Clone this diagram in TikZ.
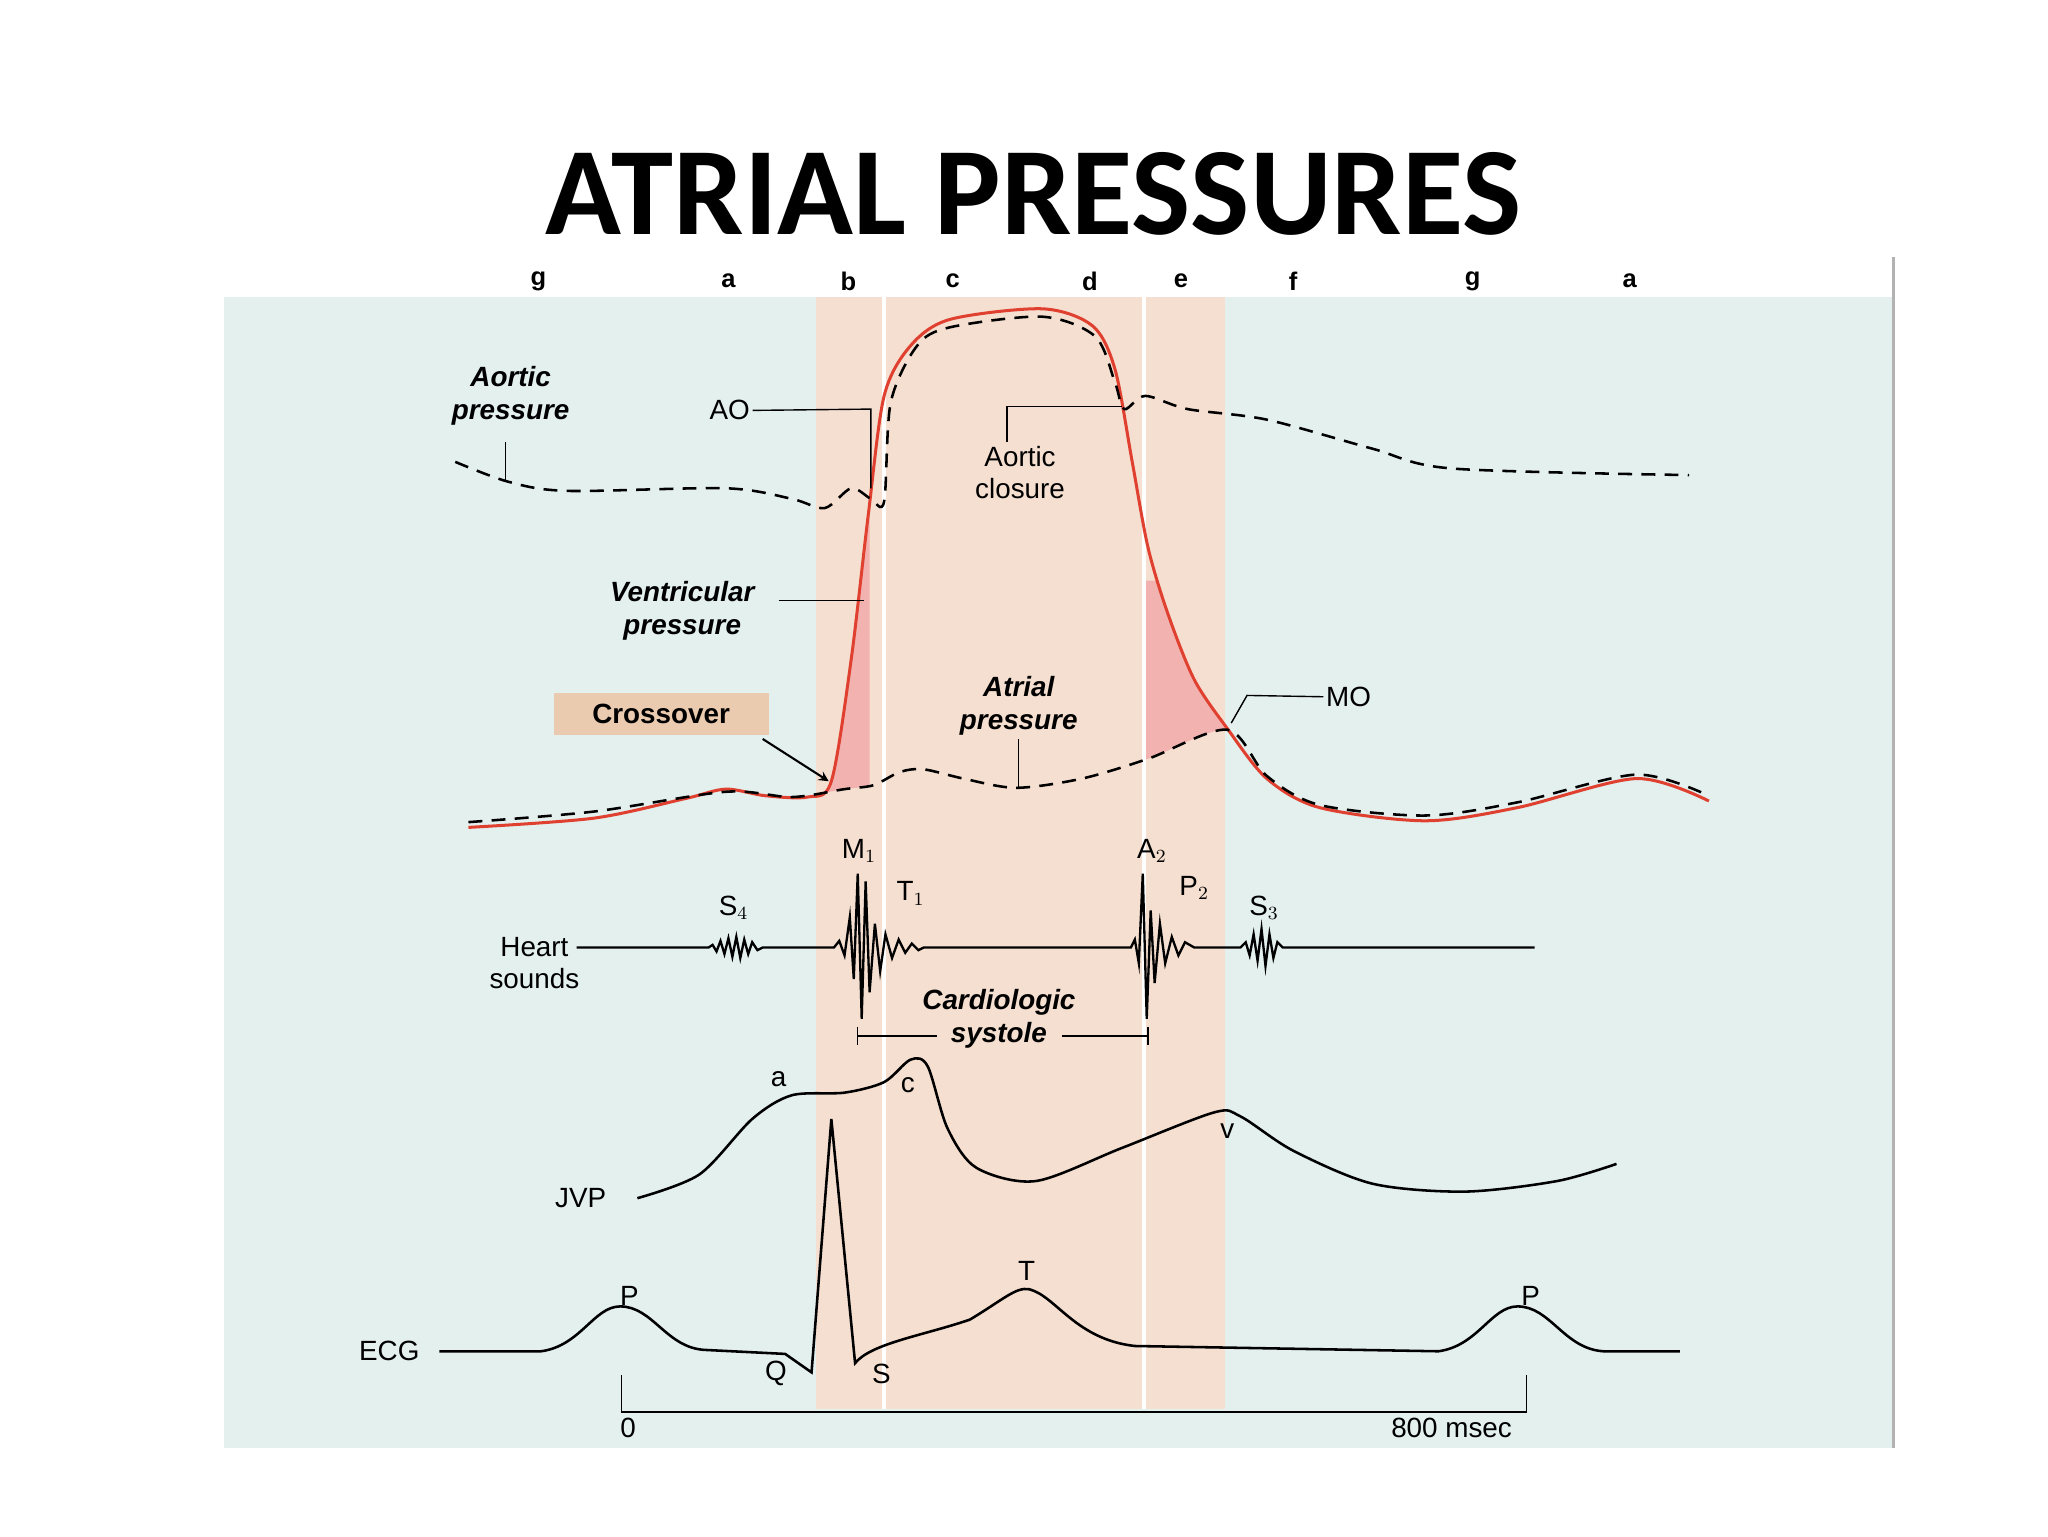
\documentclass[tikz,border=0pt]{standalone}
\usepackage{fontspec}
\setmainfont{Liberation Sans}
\newfontfamily\titlefont{Carlito}
\definecolor{bgteal}{HTML}{E3F0EE}
\definecolor{peach}{HTML}{F5DFD0}
\definecolor{redc}{HTML}{E0402F}
\definecolor{pinkf}{HTML}{F2B3B0}
\definecolor{tan}{HTML}{EACBB0}
\tikzset{lbl/.style={font=\fontsize{12}{14}\selectfont, align=center, inner sep=1pt},
 blbl/.style={font=\fontsize{12}{14}\selectfont\bfseries\itshape, align=center, inner sep=1pt},
 top/.style={font=\fontsize{11}{12}\selectfont\bfseries, inner sep=0pt},
 dsh/.style={dashed, dash pattern=on 6pt off 4pt, line width=1.1pt},
 thin/.style={line width=0.6pt}}
\def\ventpts{(355,627)(450,620)(520,605)(550,598)(580,603)(612,604)(630,592)(645,500)(658,390)(670,300)(690,262)(720,242)(790,234)(828,247)(845,280)(858,350)(870,415)(885,465)(905,515)(930,552)(960,590)(1000,612)(1080,622)(1150,612)(1240,590)(1295,607)}
\def\atrpts{(355,623)(450,615)(550,600)(600,604)(640,598)(662,595)(682,585)(700,583)(730,590)(770,597)(820,590)(870,575)(930,553)(960,588)(1000,610)(1080,618)(1150,608)(1240,587)(1295,603)}
\begin{document}
\begin{tikzpicture}[x=0.02cm,y=-0.02cm]
\useasboundingbox (0,0) rectangle (1552,1164);
\fill[white] (0,0) rectangle (1552,1164);
\fill[bgteal] (170,225) rectangle (1435,1097);
\fill[peach] (618,225) rectangle (928,1068);
% pink fills: below ventricular, above atrial
\begin{scope}
\clip (628,380) rectangle (659,620) (868,440) rectangle (935,620);
\clip plot[smooth, tension=0.5] coordinates {\ventpts} -- (1295,700) -- (355,700) -- cycle;
\fill[pinkf] plot[smooth, tension=0.5] coordinates {\atrpts} -- (1295,200) -- (355,200) -- cycle;
\end{scope}
\draw[white, line width=1.5pt] (670,225) -- (670,1068) (867,225) -- (867,1068);
\draw[gray!60, line width=1.2pt] (1435,195) -- (1435,1097);
\node[font=\titlefont\fontsize{54}{60}\selectfont\bfseries, inner sep=0pt] (title) at (783,147) {ATRIAL PRESSURES};
\foreach \x/\l in {408/g,552/a,643/b,722/c,826/d,895/e,980/f,1116/g,1235/a}
  \node[top] at (\x,213) {\l};
% ventricular
\draw[redc, line width=1.3pt] plot[smooth, tension=0.5] coordinates {\ventpts};
% aortic dashed
\draw[dsh] plot[smooth, tension=0.5] coordinates {(345,350)(385,365)(430,372)(550,370)(600,378)(625,385)(645,370)(660,378)(670,380)(675,305)(695,262)(720,248)(790,240)(830,255)(845,290)(852,310)(868,300)(900,310)(960,318)(1040,340)(1100,355)(1280,360)};
% atrial dashed
\draw[dsh] plot[smooth, tension=0.5] coordinates {\atrpts};
% labels top
\node[blbl] (aop) at (387,300) {Aortic\\pressure};
\draw[thin] (383,335) -- (383,365);
\node[lbl] (ao) at (553,311) {AO};
\draw[thin] (ao.east) -- (660,310) -- (660,370);
\node[lbl] (acl) at (773,358) {Aortic\\closure};
\draw[thin] (763,335) -- (763,308) -- (850,308);
\node[blbl] (vp) at (517,463) {Ventricular\\pressure};
\draw[thin] (590,455) -- (655,455);
\node[lbl, font=\fontsize{12}{14}\selectfont\bfseries, fill=tan, minimum width=3.26cm, minimum height=0.64cm] (cross) at (501,541) {Crossover};
\coordinate (cp) at (628,592);
\draw[-stealth, line width=0.9pt] (578,560) -- (cp);
\node[blbl] (ap) at (772,535) {Atrial\\pressure};
\draw[thin] (772,560) -- (772,597);
\node[lbl] (mo) at (1022,528) {MO};
\draw[thin] (mo.west) -- (945,527) -- (933,548);
% heart sounds
\node[lbl] (hs) at (405,730) {Heart\\sounds};
\draw[line width=1pt] (437,718) -- (537,718)
 -- plot coordinates {(540,716)(543,721)(546,713)(549,723)(552,711)(555,725)(558,710)(561,726)(564,712)(567,723)(570,714)(574,720)(578,718)}
 -- (632,718)
 -- plot coordinates {(636,713)(640,724)(644,695)(647,742)(650,662)(653,772)(656,668)(659,752)(663,700)(667,736)(671,708)(676,726)(681,712)(686,722)(691,715)(696,720)(700,718)}
 -- (857,718)
 -- plot coordinates {(860,712)(863,730)(866,662)(869,772)(872,690)(875,745)(879,700)(883,730)(888,710)(893,724)(898,714)(905,718)}
 -- (940,718)
 -- plot coordinates {(944,714)(947,724)(950,708)(953,728)(956,704)(959,732)(962,708)(965,726)(968,714)(972,718)}
 -- (1163,718);
\node[lbl] at (556,688) {S$_4$};
\node[lbl] at (651,645) {M$_1$};
\node[lbl] at (690,677) {T$_1$};
\node[lbl] at (873,645) {A$_2$};
\node[lbl] at (905,673) {P$_2$};
\node[lbl] at (958,688) {S$_3$};
\node[blbl] (cs) at (757,772) {Cardiologic\\systole};
\draw[thin] (650,778) -- (650,792) (650,785) -- (710,785) (805,785) -- (870,785) (870,778) -- (870,792);
% JVP
\node[lbl] (jvp) at (440,908) {JVP};
\draw[line width=1.1pt] plot[smooth, tension=0.5] coordinates {(483,908)(530,890)(570,848)(600,830)(640,828)(670,820)(690,803)(703,808)(718,855)(740,885)(785,895)(850,870)(920,843)(940,846)(980,872)(1040,897)(1110,903)(1180,895)(1225,882)};
\node[lbl] at (590,818) {a};
\node[lbl] at (688,822) {c};
\node[lbl] at (930,857) {v};
% ECG
\node[lbl] (ecg) at (295,1024) {ECG};
\draw[line width=1.1pt] (333,1024) -- (410,1024) .. controls (440,1020) and (450,990) .. (470,990) .. controls (495,990) and (505,1022) .. (535,1023) -- (595,1026) -- (615,1040) -- (630,848) -- (648,1033) .. controls (660,1018) and (700,1012) .. (735,1000) .. controls (760,985) and (770,975) .. (780,977) .. controls (800,982) and (815,1015) .. (860,1020) -- (1090,1024) .. controls (1120,1020) and (1130,990) .. (1150,990) .. controls (1175,990) and (1185,1022) .. (1215,1024) -- (1273,1024);
\node[lbl] at (477,982) {P};
\node[lbl] at (588,1041) {Q};
\node[lbl] at (668,1041) {S};
\node[lbl] at (778,963) {T};
\node[lbl] at (1160,982) {P};
\draw[thin] (471,1042) -- (471,1070) -- (1157,1070) -- (1157,1042);
\node[lbl] at (476,1082) {0};
\node[lbl] at (1100,1082) {800 msec};
\end{tikzpicture}
\end{document}
